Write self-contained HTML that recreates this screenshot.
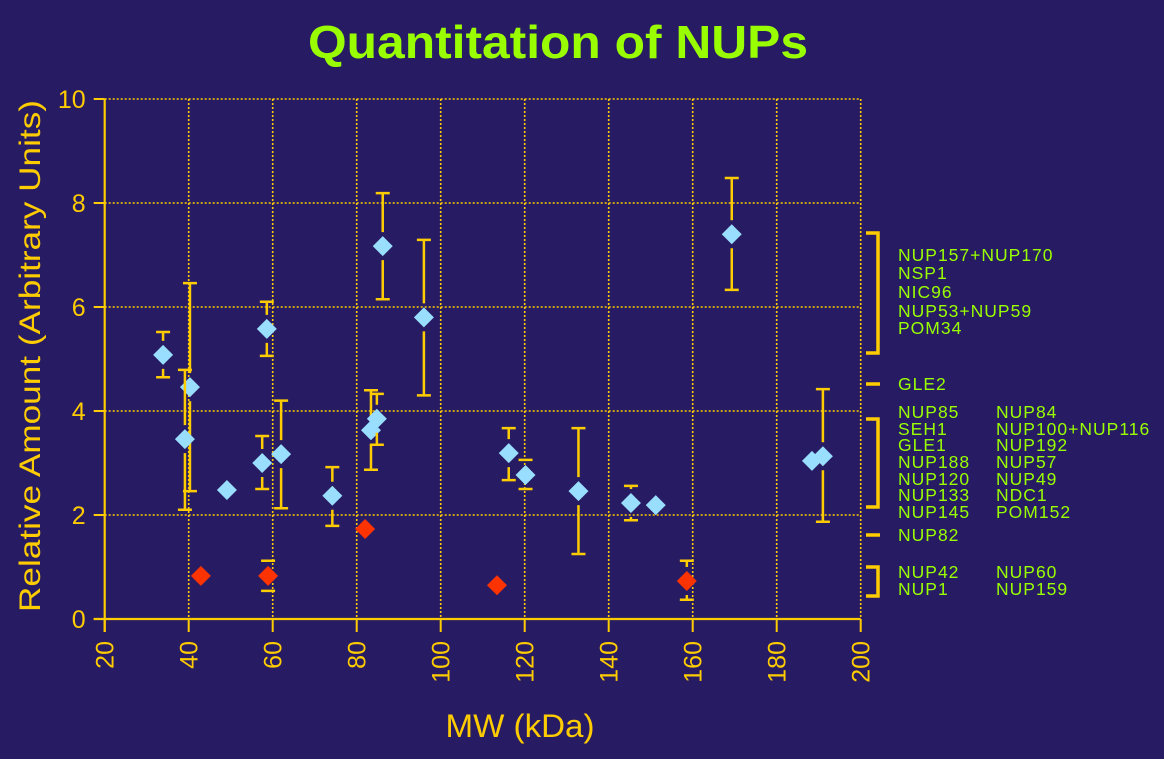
<!DOCTYPE html>
<html><head><meta charset="utf-8"><style>
html,body{margin:0;padding:0;background:#271b63;}
svg{display:block;font-family:"Liberation Sans",Arial,sans-serif;}
</style></head><body>
<svg id="chart" width="1164" height="759" viewBox="0 0 1164 759" xmlns="http://www.w3.org/2000/svg">
<rect x="0" y="0" width="1164" height="759" fill="#271b63"/>
<text x="558" y="58" text-anchor="middle" font-size="46" font-weight="bold" fill="#99ff00" textLength="500" lengthAdjust="spacingAndGlyphs">Quantitation of NUPs</text>
<g id="grid"></g>
<g id="axes"></g>
<g id="marks"></g>
<text x="520" y="737" text-anchor="middle" font-size="32" fill="#ffcc00" textLength="149" lengthAdjust="spacingAndGlyphs">MW (kDa)</text>
<text transform="translate(40,356) rotate(-90)" text-anchor="middle" font-size="30" fill="#ffcc00" textLength="512" lengthAdjust="spacingAndGlyphs">Relative Amount (Arbitrary Units)</text>
<g fill="none" stroke="#ffcc00" stroke-width="3.5">
<path d="M866 233 H878 V353 H866"/>
<path d="M866 384 H880"/>
<path d="M866 419 H878 V507 H866"/>
<path d="M866 535 H880"/>
<path d="M866 567 H878 V596 H866"/>
</g>
<g font-size="17.5" letter-spacing="1" fill="#99ff00">
<text x="898" y="261">NUP157+NUP170</text>
<text x="898" y="279">NSP1</text>
<text x="898" y="298">NIC96</text>
<text x="898" y="317">NUP53+NUP59</text>
<text x="898" y="334">POM34</text>
<text x="898" y="390">GLE2</text>
<text x="898" y="418">NUP85</text>
<text x="898" y="435">SEH1</text>
<text x="898" y="451">GLE1</text>
<text x="898" y="468">NUP188</text>
<text x="898" y="485">NUP120</text>
<text x="898" y="501">NUP133</text>
<text x="898" y="518">NUP145</text>
<text x="996" y="418">NUP84</text>
<text x="996" y="435">NUP100+NUP116</text>
<text x="996" y="451">NUP192</text>
<text x="996" y="468">NUP57</text>
<text x="996" y="485">NUP49</text>
<text x="996" y="501">NDC1</text>
<text x="996" y="518">POM152</text>
<text x="898" y="541">NUP82</text>
<text x="898" y="578">NUP42</text>
<text x="898" y="595">NUP1</text>
<text x="996" y="578">NUP60</text>
<text x="996" y="595">NUP159</text>
</g>
</svg>
<script>
const xTicks = [20,40,60,80,100,120,140,160,180,200];
const yTicks = [0,2,4,6,8,10];
const blueX  = [33.9,40.3,39.1,49.1,57.5,58.6,62.0,74.2,83.4,84.8,86.2,96.0,116.2,120.2,132.8,145.3,151.2,169.3,188.4,191.0];
const blueY  = [5.08,4.46,3.46,2.48,3.00,5.58,3.17,2.37,3.63,3.85,7.17,5.80,3.19,2.77,2.46,2.23,2.19,7.40,3.04,3.13];
const blueHi = [5.52,6.46,4.79,null,3.52,6.10,4.20,2.92,4.40,4.33,8.19,7.29,3.67,3.06,3.67,2.56,null,8.48,null,4.42];
const blueLo = [4.65,2.46,2.10,null,2.50,5.06,2.13,1.79,2.87,3.35,6.15,4.30,2.67,2.50,1.25,1.90,null,6.33,null,1.87];
const redX  = [42.9,58.9,82.0,113.4,158.6];
const redY  = [0.83,0.83,1.73,0.65,0.73];
const redHi = [null,1.12,null,null,1.12];
const redLo = [null,0.54,null,null,0.37];

const X0=104.7, X1=860.7, Y0=619, Y1=99;
const sx = v => X0 + (v-20)/(200-20)*(X1-X0);
const sy = v => Y0 - (v-0)/(10-0)*(Y0-Y1);
const NS="http://www.w3.org/2000/svg";
function mk(tag, attrs, parent){const e=document.createElementNS(NS,tag);for(const k in attrs)e.setAttribute(k,attrs[k]);parent.appendChild(e);return e;}
const grid=document.getElementById('grid'), axes=document.getElementById('axes'), marks=document.getElementById('marks');
const Y='#ffcc00';
xTicks.forEach(t=>{
  if(t>20){const g=mk('line',{x1:sx(t),x2:sx(t),y1:Y1,y2:Y0,stroke:Y,'stroke-width':1.6,'stroke-dasharray':'2 2'},grid);
  
  }
  const tk=mk('line',{x1:sx(t),x2:sx(t),y1:Y0,y2:Y0+13,stroke:Y,'stroke-width':2},axes);
  
  
  const tx=mk('text',{transform:`translate(${sx(t)+9},641) rotate(-90)`,'text-anchor':'end','font-size':25,fill:Y},axes);
  
  
  tx.textContent=t;
});
yTicks.forEach(t=>{
  if(t>0){const g=mk('line',{x1:X0,x2:X1,y1:sy(t),y2:sy(t),stroke:Y,'stroke-width':1.6,'stroke-dasharray':'2 2'},grid);
  
  }
  const tk=mk('line',{x1:X0-11,x2:X0,y1:sy(t),y2:sy(t),stroke:Y,'stroke-width':2},axes);
  
  
  const tx=mk('text',{x:X0-19,y:sy(t)+9,'text-anchor':'end','font-size':25,fill:Y},axes);
  
  
  tx.textContent=t;
});
const ya=mk('line',{x1:X0,x2:X0,y1:Y1,y2:Y0+13,stroke:Y,'stroke-width':2.2},axes);


const xa=mk('line',{x1:X0-11,x2:X1,y1:Y0,y2:Y0,stroke:Y,'stroke-width':2.2},axes);



function series(xs,ys,hi,lo,color,name){
  xs.forEach((x,i)=>{
    const cx=sx(x), cy=sy(ys[i]);
    if(hi[i]!==null){
      const g=mk('g',{stroke:Y,'stroke-width':2.5,fill:'none'},marks);
      
      
      const th=sy(hi[i]), tl=sy(lo[i]);
      mk('path',{d:`M${cx} ${th} V${Math.min(cy-14,Math.max(th,cy-14))} M${cx-7} ${th} H${cx+7} M${cx} ${tl} V${Math.max(cy+14,Math.min(tl,cy+14))} M${cx-7} ${tl} H${cx+7}`},g);
    }
    const d=mk('path',{d:`M${cx} ${cy-10} L${cx+10} ${cy} L${cx} ${cy+10} L${cx-10} ${cy} Z`,fill:color},marks);
    
    
  });
}
series(blueX,blueY,blueHi,blueLo,'#99ddff','blue');
series(redX,redY,redHi,redLo,'#ff3300','red');
</script>
</body></html>
